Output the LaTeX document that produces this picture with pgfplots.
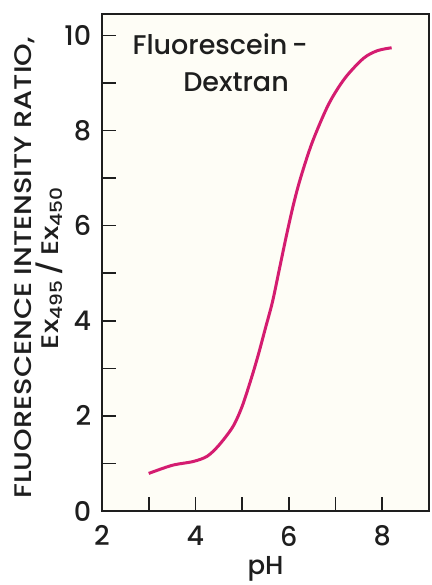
\documentclass[border=0pt]{standalone}
\usepackage{fontspec}
\setmainfont{Poppins}[UprightFont={* Medium}]
\usepackage{pgfplots}
\pgfplotsset{compat=1.18}
\definecolor{curve}{RGB}{212,28,112}
\definecolor{paper}{RGB}{254,253,246}
\definecolor{ink}{RGB}{30,30,30}
\begin{document}
\fontsize{26}{30}\selectfont
\begin{tikzpicture}
\begin{axis}[
    scale only axis,
    width=327pt, height=497pt,
    xmin=2, xmax=9,
    ymin=0, ymax=10.45,
    axis background/.style={fill=paper},
    axis line style={ink, line width=1.6pt},
    every tick/.style={ink, line width=1.6pt},
    tick align=inside,
    xtick pos=bottom, ytick pos=left,
    xtick={2,4,6,8}, minor xtick={3,5,7},
    ytick={0,2,4,6,8,10}, minor ytick={1,3,5,7,9},
    major tick length=14pt, minor tick length=14pt,
    tick label style={font=\fontsize{27}{30}\selectfont, text=ink},
    /pgf/number format/assume math mode=true,
    xticklabel style={yshift=-6pt},
    yticklabel style={xshift=-2pt},
    xlabel={pH},
    xlabel style={font=\fontsize{26}{30}\selectfont, text=ink, yshift=7pt},
    ylabel={\scalebox{1.2}[1]{FLUORESCENCE INTENSITY RATIO,}\\\scalebox{1.2}[1]{Ex\textsubscript{495}\,/\,Ex\textsubscript{450}}},
    ylabel style={font=\fontsize{24}{27}\selectfont, text=ink, align=center,
        at={(axis description cs:-0.194,0.489)}, anchor=center},
    clip=false,
]
\addplot[curve, line width=3pt, smooth, tension=0.5] coordinates {
    (3.0,0.79) (3.5,0.96) (3.95,1.04) (4.25,1.15) (4.5,1.38) (4.8,1.77)
    (5.0,2.2) (5.2,2.8) (5.35,3.3) (5.5,3.85) (5.65,4.4) (5.8,5.1)
    (5.95,5.8) (6.1,6.45) (6.25,7.0) (6.5,7.75) (6.85,8.55) (7.2,9.1)
    (7.6,9.52) (7.9,9.68) (8.2,9.74)
};
\node[text=ink, font=\fontsize{27}{30}\selectfont] at (axis cs:4.53,9.81) {Fluorescein\,-};
\node[text=ink, font=\fontsize{27}{30}\selectfont] at (axis cs:4.87,9.01) {Dextran};
\end{axis}
\pgfresetboundingbox
\path[use as bounding box] ([shift={(-102pt,-74pt)}]current axis.south west) rectangle ([shift={(3pt,14pt)}]current axis.north east);
\end{tikzpicture}
\end{document}
